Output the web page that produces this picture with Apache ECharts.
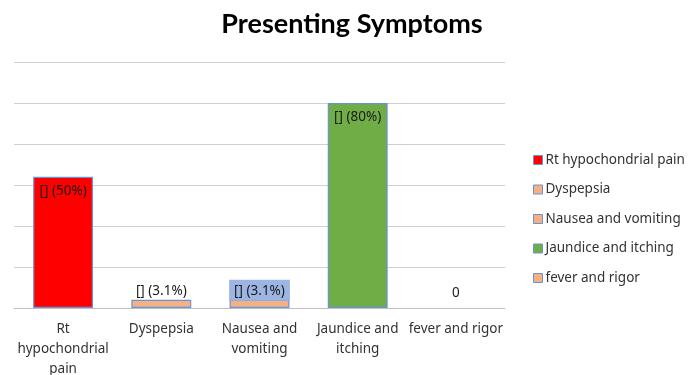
<!DOCTYPE html>
<html><head><meta charset="utf-8">
<script src="https://cdn.jsdelivr.net/npm/echarts@6/dist/echarts.min.js"></script>
<style>html,body{margin:0;padding:0;background:#fff}#c{width:699px;height:375px}</style>
</head><body><div id="c"></div>
<script>
var categories = ['Rt hypochondrial pain','Dyspepsia','Nausea and vomiting','Jaundice and itching','fever and rigor'];
var axisLabels = ['Rt\nhypochondrial\npain','Dyspepsia','Nausea and\nvomiting','Jaundice and\nitching','fever and rigor'];
var counts = [16, 1, 1, 25, 0];
var labelTexts = ['[] (50%)','[] (3.1%)','[] (3.1%)','[] (80%)','0'];
var colors = ['#FF0000','#F4B183','#F4B183','#70AD47','#F4B183'];

var font = 'Noto Sans';
var series = categories.map(function(name, i){
  var data = categories.map(function(_, j){ return j === i ? counts[i] : null; });
  var inside = counts[i] > 5;
  var lbl = {
    show: true,
    formatter: labelTexts[i],
    fontFamily: font, fontSize: 13.5, color: '#1a1a1a',
    position: inside ? 'insideTop' : 'top',
    distance: inside ? 7 : 2
  };
  if (i === 2) {
    lbl.backgroundColor = '#9DB5E2';
    lbl.padding = [4, 5, 3, 5];
    lbl.distance = -1;
  }
  if (i === 4) { lbl.distance = 8; }
  return {
    name: name, type: 'bar', data: data,
    barWidth: '61%', barGap: '-100%',
    itemStyle: { color: colors[i], borderColor: '#6A93D4', borderWidth: counts[i] === 0 ? 0 : 1.2 },
    label: lbl
  };
});

var chart = echarts.init(document.getElementById('c'));
chart.setOption({
  animation: false,
  title: { text: 'Presenting Symptoms', left: 347, textAlign: 'center', top: 6,
    textStyle: { fontFamily: 'Lato', fontWeight: 'bold', fontSize: 27, color: '#000' } },
  legend: {
    orient: 'vertical', left: 528, top: 148, itemGap: 15.5,
    itemWidth: 9, itemHeight: 9, icon: 'rect',
    textStyle: { fontFamily: font, fontSize: 13.5, color: '#333', padding: [0,0,0,-2] },
    data: categories.map(function(c, i){ return { name: c, itemStyle: { color: colors[i], borderColor: '#6A93D4', borderWidth: 1 } }; })
  },
  grid: { left: 14, right: 194, top: 62, bottom: 67, outerBoundsMode: 'none', containLabel: false },
  xAxis: {
    type: 'category', data: axisLabels,
    axisLine: { lineStyle: { color: '#BFBFBF', width: 1 } },
    axisTick: { show: false },
    axisLabel: { interval: 0, fontFamily: font, fontSize: 13.5, color: '#333', lineHeight: 20, margin: 11 }
  },
  yAxis: {
    type: 'value', min: 0, max: 30, interval: 5,
    axisLabel: { show: false }, axisLine: { show: false }, axisTick: { show: false },
    splitLine: { lineStyle: { color: '#D0D0D0', width: 1 } }
  },
  series: series
});
</script></body></html>
